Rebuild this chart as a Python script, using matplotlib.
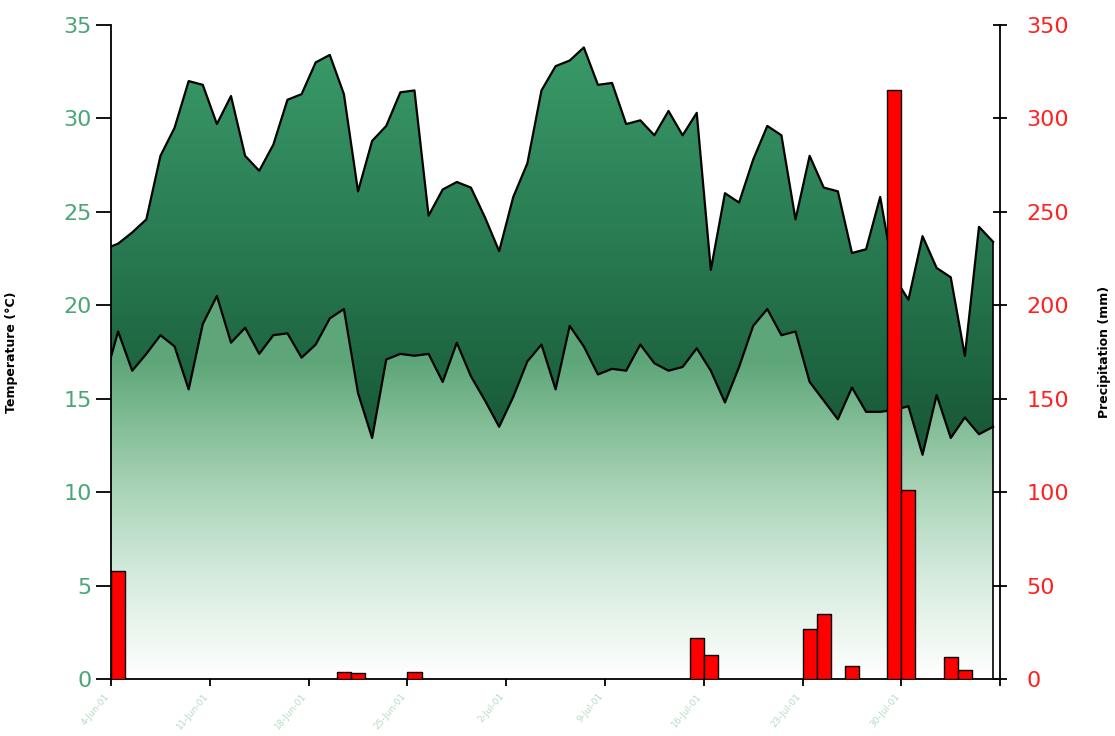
import numpy as np
import matplotlib.pyplot as plt
from matplotlib.colors import LinearSegmentedColormap
from matplotlib.patches import PathPatch

# daily max / min temperature (first value is the day before the axis starts)
t_max = [23.0, 23.3, 23.9, 24.6, 28.0, 29.5, 32.0, 31.8, 29.7, 31.2,
         28.0, 27.2, 28.6, 31.0, 31.3, 33.0, 33.4, 31.3, 26.1, 28.8,
         29.6, 31.4, 31.5, 24.8, 26.2, 26.6, 26.3, 24.7, 22.9, 25.8,
         27.6, 31.5, 32.8, 33.1, 33.8, 31.8, 31.9, 29.7, 29.9, 29.1,
         30.4, 29.1, 30.3, 21.9, 26.0, 25.5, 27.8, 29.6, 29.1, 24.6,
         28.0, 26.3, 26.1, 22.8, 23.0, 25.8, 21.5, 20.3, 23.7, 22.0,
         21.5, 17.3, 24.2, 23.4]
t_min = [15.9, 18.6, 16.5, 17.4, 18.4, 17.8, 15.5, 19.0, 20.5, 18.0,
         18.8, 17.4, 18.4, 18.5, 17.2, 17.9, 19.3, 19.8, 15.3, 12.9,
         17.1, 17.4, 17.3, 17.4, 15.9, 18.0, 16.2, 14.9, 13.5, 15.1,
         17.0, 17.9, 15.5, 18.9, 17.8, 16.3, 16.6, 16.5, 17.9, 16.9,
         16.5, 16.7, 17.7, 16.5, 14.8, 16.7, 18.9, 19.8, 18.4, 18.6,
         15.9, 14.9, 13.9, 15.6, 14.3, 14.3, 14.4, 14.6, 12.0, 15.2,
         12.9, 14.0, 13.1, 13.5]

# rainy days (day index) and amount in mm
rain_day = [0, 16, 17, 21, 41, 42, 49, 50, 52, 55, 56, 59, 60]
rain_mm = [58, 4, 3, 4, 22, 13, 27, 35, 7, 315, 101, 12, 5]

tick_days = [0, 7, 14, 21, 28, 35, 42, 49, 56]
tick_labels = ['4-Jun-01', '11-Jun-01', '18-Jun-01', '25-Jun-01', '2-Jul-01',
               '9-Jul-01', '16-Jul-01', '23-Jul-01', '30-Jul-01']

n_days = 63
x = np.arange(-1, len(t_max) - 1) + 0.5

fig = plt.figure(figsize=(11.15, 7.36), dpi=100)
ax = fig.add_axes([0.0996, 0.0774, 0.7974, 0.8886])

band_cmap = LinearSegmentedColormap.from_list(
    'band', [(0.0, '#195636'), (0.25, '#1f6843'), (0.55, '#2a7d54'), (1.0, '#3a9a68')])
low_cmap = LinearSegmentedColormap.from_list(
    'low', [(0.0, '#ffffff'), (0.1, '#f2f9f4'), (0.3, '#d8ede0'),
            (0.6, '#a8d3b6'), (0.85, '#7ab88f'), (1.0, '#5ea679')])

yy = np.linspace(0, 35, 400)
band_img = band_cmap(np.clip((yy - 12) / 22, 0, 1))[:, None, :]
low_img = low_cmap(np.clip(yy / 17, 0, 1))[:, None, :]

band = ax.fill_between(x, t_min, t_max, facecolor='none', edgecolor='none')
low = ax.fill_between(x, 0, t_min, facecolor='none', edgecolor='none')

for img, poly in [(band_img, band), (low_img, low)]:
    im = ax.imshow(img, extent=(x[0], x[-1], 0, 35), origin='lower',
                   aspect='auto', zorder=1)
    patch = PathPatch(poly.get_paths()[0], transform=ax.transData,
                      facecolor='none', edgecolor='none')
    im.set_clip_path(patch)

ax.plot(x, t_max, color='black', lw=1.6, zorder=3)
ax.plot(x, t_min, color='black', lw=1.6, zorder=3)
ax.plot([x[-1], x[-1]], [0, t_max[-1]], color='black', lw=1.2, zorder=3)

ax.set_xlim(0, n_days)
ax.set_ylim(0, 35)
ax.set_yticks(range(0, 36, 5))
ax.tick_params(axis='y', colors='black', labelcolor='#4aa577', labelsize=16,
               length=11, width=1.3, direction='out', pad=3)
ax.set_xticks(tick_days + [n_days])
ax.set_xticklabels(tick_labels + [''])
ax.tick_params(axis='x', length=5, width=1.3, labelsize=6.5,
               labelcolor='#b5dbc1', pad=4)
for lab in ax.get_xticklabels():
    lab.set_rotation(50)
    lab.set_ha('right')
    lab.set_va('top')
ax.spines['top'].set_visible(False)
ax.spines['right'].set_visible(False)
for s in ['left', 'bottom']:
    ax.spines[s].set_linewidth(1.3)
ax.set_ylabel('Temperature (°C)', fontsize=9, fontweight='bold')
ax.yaxis.set_label_coords(-0.105, 0.5)

ax2 = ax.twinx()
ax2.bar(rain_day, rain_mm, width=1.0, align='edge', color='#ff0000',
        edgecolor='black', linewidth=1.0, zorder=4)
ax2.set_ylim(0, 350)
ax2.set_yticks(range(0, 351, 50))
ax2.tick_params(axis='y', labelcolor='#ff2020', labelsize=16,
                length=10, width=1.3, direction='inout', pad=14)
ax2.spines['top'].set_visible(False)
ax2.spines['left'].set_visible(False)
ax2.spines['bottom'].set_visible(False)
ax2.spines['right'].set_linewidth(1.3)
ax2.set_ylabel('Precipitation (mm)', fontsize=9, fontweight='bold', rotation=90)
ax2.yaxis.set_label_coords(1.11, 0.5)

fig.savefig('out.png', dpi=100)
